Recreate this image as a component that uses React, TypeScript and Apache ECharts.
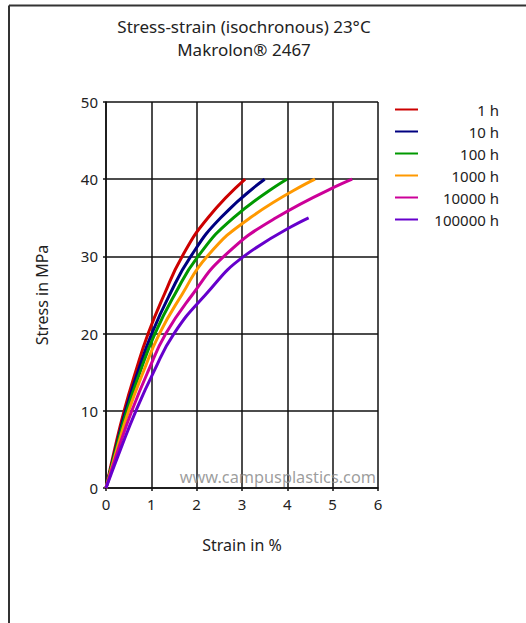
import React, { useEffect, useRef } from "react";
import * as echarts from "echarts";

const titleLines = ["Stress-strain (isochronous) 23°C", "Makrolon® 2467"];
const xAxisName = "Strain in %";
const yAxisName = "Stress in MPa";
const watermark = "www.campusplastics.com";

const seriesNames = ["1 h", "10 h", "100 h", "1000 h", "10000 h", "100000 h"];
const seriesColors = ["#cc0000", "#000080", "#009900", "#ff9900", "#cc0099", "#6600cc"];

const stress1h = [0, 5, 10, 15, 20, 25, 30, 35, 40];
const strain1h = [0, 0.19, 0.4, 0.65, 0.93, 1.28, 1.68, 2.25, 3.07];
const stress10h = [0, 5, 10, 15, 20, 25, 30, 35, 40];
const strain10h = [0, 0.21, 0.43, 0.7, 1.01, 1.4, 1.87, 2.53, 3.5];
const stress100h = [0, 5, 10, 15, 20, 25, 30, 35, 40];
const strain100h = [0, 0.22, 0.46, 0.75, 1.08, 1.51, 2.03, 2.81, 3.99];
const stress1000h = [0, 5, 10, 15, 20, 25, 30, 35, 40];
const strain1000h = [0, 0.24, 0.5, 0.82, 1.18, 1.67, 2.23, 3.18, 4.61];
const stress10000h = [0, 5, 10, 15, 20, 25, 30, 35, 40];
const strain10000h = [0, 0.27, 0.57, 0.92, 1.32, 1.9, 2.6, 3.75, 5.43];
const stress100000h = [0, 5, 10, 15, 20, 25, 30, 35];
const strain100000h = [0, 0.32, 0.66, 1.05, 1.5, 2.19, 3.04, 4.47];

const strains = [strain1h, strain10h, strain100h, strain1000h, strain10000h, strain100000h];
const stresses = [stress1h, stress10h, stress100h, stress1000h, stress10000h, stress100000h];

export default function App() {
  const ref = useRef<HTMLDivElement>(null);
  useEffect(() => {
    if (!ref.current) return;
    const chart = echarts.init(ref.current, null, { renderer: "svg" });
    const font = "'Noto Sans', 'Open Sans', sans-serif";
    const series = seriesNames.map((name, i) => ({
      name,
      type: "line",
      data: strains[i].map((s, j) => [s, stresses[i][j]]),
      smooth: 0.5,
      showSymbol: false,
      symbol: "none",
      lineStyle: { color: seriesColors[i], width: 3 },
      itemStyle: { color: seriesColors[i] },
      z: 3,
    }));
    const titleStyle = { fontFamily: font, fontSize: 17, fontWeight: "normal", color: "#222", lineHeight: 17 };
    chart.setOption({
      animation: false,
      backgroundColor: "#ffffff",
      textStyle: { fontFamily: font },
      title: [
        { text: titleLines[0], left: 244, top: 18, textAlign: "center", padding: 0, textStyle: titleStyle },
        { text: titleLines[1], left: 244, top: 41, textAlign: "center", padding: 0, textStyle: titleStyle },
      ],
      legend: {
        orient: "vertical",
        left: 395,
        top: 102,
        padding: 0,
        itemWidth: 23,
        itemHeight: 2,
        itemGap: 7,
        icon: "rect",
        data: seriesNames,
        selectedMode: false,
        formatter: "{a|{name}}",
        textStyle: {
          fontFamily: font,
          fontSize: 15,
          color: "#222",
          rich: { a: { fontFamily: font, fontSize: 15, color: "#222", width: 76, align: "right", lineHeight: 17 } },
        },
      },
      grid: { left: 106, right: 148, top: 102, bottom: 135, containLabel: false },
      xAxis: {
        type: "value",
        min: 0,
        max: 6,
        interval: 1,
        name: xAxisName,
        nameLocation: "middle",
        nameGap: 49,
        nameTextStyle: { fontFamily: font, fontSize: 16, color: "#222" },
        axisLine: { show: true, lineStyle: { color: "#111", width: 1.5 } },
        axisTick: { show: true, length: 3, lineStyle: { color: "#111", width: 1.5 } },
        axisLabel: { fontFamily: font, fontSize: 15, color: "#222", margin: 8 },
        splitLine: { show: true, lineStyle: { color: "#111", width: 1.5 } },
      },
      yAxis: {
        type: "value",
        min: 0,
        max: 50,
        interval: 10,
        name: yAxisName,
        nameLocation: "middle",
        nameGap: 56,
        nameTextStyle: { fontFamily: font, fontSize: 16, color: "#222" },
        axisLine: { show: true, lineStyle: { color: "#111", width: 1.5 } },
        axisTick: { show: true, length: 3, lineStyle: { color: "#111", width: 1.5 } },
        axisLabel: { fontFamily: font, fontSize: 15, color: "#222", margin: 8 },
        splitLine: { show: true, lineStyle: { color: "#111", width: 1.5 } },
      },
      graphic: [
        {
          type: "line",
          shape: { x1: 9, y1: 5.5, x2: 526, y2: 5.5 },
          style: { stroke: "#333", lineWidth: 2 },
          silent: true,
        },
        {
          type: "line",
          shape: { x1: 9, y1: 5.5, x2: 9, y2: 623 },
          style: { stroke: "#333", lineWidth: 2 },
          silent: true,
        },
        {
          type: "text",
          x: 376,
          y: 477,
          z: 10,
          style: {
            text: watermark,
            fontFamily: font,
            fontSize: 16.3,
            fill: "rgba(140,140,140,0.85)",
            textAlign: "right",
            textVerticalAlign: "middle",
          },
          silent: true,
        },
      ],
      series,
    });
    return () => chart.dispose();
  }, []);
  return <div ref={ref} style={{ position: "fixed", left: 0, top: 0, width: 526, height: 623 }} />;
}
